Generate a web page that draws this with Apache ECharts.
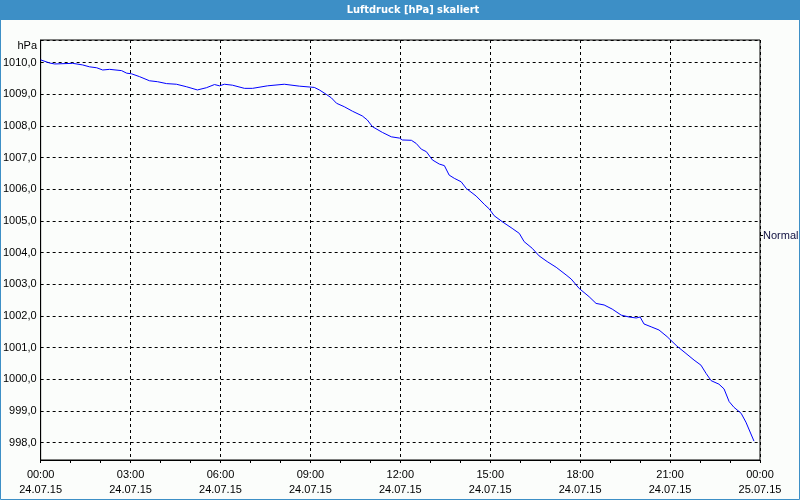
<!DOCTYPE html>
<html>
<head>
<meta charset="utf-8">
<script src="https://cdn.jsdelivr.net/npm/echarts@6/dist/echarts.min.js"></script>
<style>html,body{margin:0;padding:0;background:#fbfdfb;}#c{width:800px;height:500px;}</style>
</head>
<body>
<div id="c"></div>
<script>
// time of day in hours (24.07.15 00:00 = 0)
const hours = [0, 0.30, 0.47, 1.07, 1.40, 1.63, 1.87, 2.07, 2.30, 2.70, 2.87, 3.03, 3.30, 3.63, 3.90, 4.20, 4.53, 4.87, 5.23, 5.53, 5.80, 5.97, 6.13, 6.40, 6.80, 7.07, 7.57, 8.13, 8.63, 9.13, 9.30, 9.53, 9.70, 9.87, 10.13, 10.40, 10.73, 10.90, 11.07, 11.40, 11.70, 11.97, 12.07, 12.37, 12.53, 12.70, 12.87, 13.07, 13.30, 13.47, 13.63, 13.80, 14.03, 14.20, 14.53, 14.80, 14.97, 15.13, 15.40, 15.73, 15.97, 16.13, 16.40, 16.63, 16.90, 17.20, 17.53, 17.70, 17.97, 18.30, 18.53, 18.80, 19.07, 19.37, 19.63, 19.87, 20.00, 20.13, 20.37, 20.63, 20.90, 21.23, 21.53, 21.80, 22.03, 22.20, 22.37, 22.63, 22.80, 22.97, 23.13, 23.37, 23.53, 23.80];
// pressure in hPa
const pressure = [1010.09, 1009.99, 1009.96, 1009.98, 1009.93, 1009.87, 1009.84, 1009.77, 1009.79, 1009.75, 1009.67, 1009.65, 1009.56, 1009.43, 1009.40, 1009.34, 1009.32, 1009.24, 1009.14, 1009.21, 1009.31, 1009.27, 1009.32, 1009.29, 1009.19, 1009.19, 1009.27, 1009.32, 1009.26, 1009.22, 1009.14, 1009.00, 1008.89, 1008.72, 1008.61, 1008.47, 1008.32, 1008.19, 1007.98, 1007.80, 1007.66, 1007.62, 1007.56, 1007.55, 1007.45, 1007.27, 1007.19, 1006.93, 1006.80, 1006.75, 1006.45, 1006.35, 1006.24, 1006.03, 1005.79, 1005.53, 1005.38, 1005.17, 1004.98, 1004.77, 1004.61, 1004.35, 1004.14, 1003.90, 1003.72, 1003.54, 1003.30, 1003.17, 1002.87, 1002.61, 1002.40, 1002.35, 1002.22, 1002.03, 1001.97, 1001.94, 1001.97, 1001.75, 1001.66, 1001.56, 1001.35, 1001.05, 1000.82, 1000.61, 1000.45, 1000.19, 999.96, 999.85, 999.70, 999.30, 999.12, 998.93, 998.65, 998.05];
const dateLabels = ['24.07.15', '25.07.15'];
const titleText = 'Luftdruck [hPa] skaliert';
const unitText = 'hPa';
const seriesName = 'Normal';

const chart = echarts.init(document.getElementById('c'));
const font = 'Liberation Sans, Arial, sans-serif';
chart.setOption({
  animation: false,
  backgroundColor: '#fbfdfb',
  graphic: [
    {type: 'rect', z: -1, shape: {x: 0, y: 0, width: 800, height: 20}, style: {fill: '#3d8fc6'}},
    {type: 'text', z: 10, x: 413, y: 10, style: {text: titleText, fill: '#ffffff', font: 'bold 11px DejaVu Sans Condensed, ' + font, align: 'center', verticalAlign: 'middle'}},
    {type: 'rect', z: 100, shape: {x: 0.5, y: 0.5, width: 799, height: 499}, style: {fill: null, stroke: '#3d8fc6', lineWidth: 1}},
    {type: 'text', x: 37, y: 46, style: {text: unitText, fill: '#000', font: '11px ' + font, align: 'right', verticalAlign: 'middle'}},
    {type: 'line', shape: {x1: 760, y1: 235.5, x2: 763, y2: 235.5}, style: {stroke: '#000', lineWidth: 1}},
    {type: 'text', x: 763, y: 236, style: {text: seriesName, fill: '#101040', font: '11px ' + font, verticalAlign: 'middle'}}
  ],
  grid: {left: 40, right: 40, top: 40, bottom: 40, show: true, borderColor: '#000', borderWidth: 1, backgroundColor: 'transparent'},
  xAxis: {
    type: 'value', min: 0, max: 24, interval: 3,
    axisLine: {lineStyle: {color: '#000', width: 1}},
    axisTick: {show: true, length: 3, lineStyle: {color: '#000'}},
    minorTick: {show: true, splitNumber: 3, length: 3, lineStyle: {color: '#000'}},
    splitLine: {show: true, lineStyle: {color: '#000', type: [3, 3], width: 1}},
    axisLabel: {
      color: '#000', fontSize: 11, fontFamily: font, margin: 7, lineHeight: 15,
      formatter: function (v) {
        const h = v % 24;
        const d = v >= 24 ? dateLabels[1] : dateLabels[0];
        return String(h).padStart(2, '0') + ':00\n' + d;
      }
    }
  },
  yAxis: {
    type: 'value', min: 997.455, max: 1010.717, splitNumber: 13,
    axisLine: {show: true, lineStyle: {color: '#000', width: 1}},
    axisTick: {show: false},
    splitLine: {show: true, lineStyle: {color: '#000', type: [3, 3], width: 1}},
    axisLabel: {
      color: '#000', fontSize: 11, fontFamily: font, margin: 4,
      showMinLabel: false, showMaxLabel: false,
      formatter: function (v) {
        if (Math.abs(v - Math.round(v)) > 0.01) return '';
        return v.toFixed(1).replace('.', ',');
      }
    }
  },
  series: [{
    name: seriesName, type: 'line', showSymbol: false, symbol: 'none',
    data: hours.map((h, i) => [h, pressure[i]]),
    lineStyle: {color: '#0000ff', width: 1}
  }]
});
</script>
</body>
</html>
